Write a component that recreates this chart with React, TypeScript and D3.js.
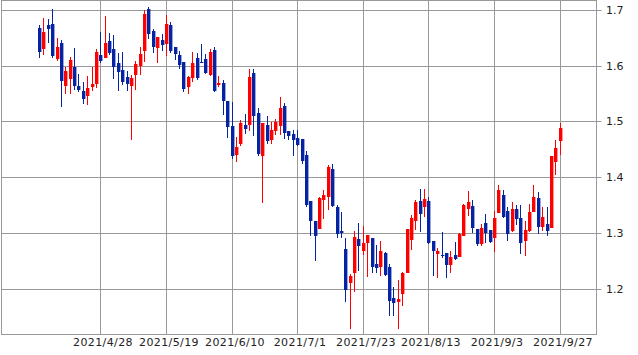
import React from "react";
import * as d3 from "d3";

const open = [
  1.668, 1.630, 1.673, 1.675, 1.612, 1.641, 1.564, 1.576, 1.598, 1.564,
  1.555, 1.546, 1.562, 1.567, 1.619, 1.613, 1.644, 1.630, 1.605, 1.592,
  1.580, 1.564, 1.583, 1.600, 1.626, 1.702, 1.662, 1.632, 1.646, 1.639,
  1.673, 1.634, 1.619, 1.607, 1.562, 1.578, 1.614, 1.607, 1.612, 1.583,
  1.628, 1.565, 1.569, 1.537, 1.492, 1.440, 1.460, 1.494, 1.494, 1.587,
  1.515, 1.438, 1.494, 1.467, 1.483, 1.492, 1.528, 1.483, 1.477, 1.470,
  1.468, 1.440, 1.357, 1.321, 1.306, 1.359, 1.365, 1.415, 1.347, 1.303,
  1.271, 1.209, 1.227, 1.289, 1.268, 1.282, 1.291, 1.244, 1.239, 1.264,
  1.239, 1.183, 1.176, 1.191, 1.228, 1.287, 1.322, 1.357, 1.346, 1.357,
  1.285, 1.262, 1.260, 1.264, 1.243, 1.260, 1.257, 1.295, 1.343, 1.348,
  1.307, 1.279, 1.318, 1.305, 1.291, 1.336, 1.368, 1.339, 1.303, 1.343,
  1.327, 1.286, 1.303, 1.338, 1.362, 1.311, 1.316, 1.309, 1.428, 1.464,
];
const high = [
  1.673, 1.686, 1.684, 1.702, 1.650, 1.646, 1.598, 1.616, 1.632, 1.585,
  1.571, 1.582, 1.598, 1.630, 1.661, 1.689, 1.659, 1.655, 1.623, 1.625,
  1.590, 1.583, 1.608, 1.634, 1.700, 1.705, 1.666, 1.652, 1.657, 1.691,
  1.678, 1.634, 1.626, 1.607, 1.582, 1.625, 1.623, 1.639, 1.621, 1.630,
  1.634, 1.582, 1.574, 1.537, 1.535, 1.472, 1.502, 1.513, 1.594, 1.594,
  1.524, 1.497, 1.510, 1.499, 1.504, 1.544, 1.533, 1.483, 1.485, 1.485,
  1.468, 1.447, 1.357, 1.321, 1.364, 1.377, 1.422, 1.424, 1.350, 1.338,
  1.291, 1.226, 1.303, 1.318, 1.312, 1.296, 1.291, 1.278, 1.285, 1.266,
  1.244, 1.203, 1.216, 1.230, 1.307, 1.332, 1.359, 1.378, 1.378, 1.364,
  1.285, 1.273, 1.301, 1.264, 1.267, 1.283, 1.300, 1.352, 1.375, 1.359,
  1.307, 1.316, 1.334, 1.305, 1.339, 1.386, 1.377, 1.346, 1.355, 1.350,
  1.350, 1.321, 1.352, 1.386, 1.373, 1.346, 1.346, 1.438, 1.467, 1.497,
];
const low = [
  1.614, 1.620, 1.641, 1.614, 1.609, 1.526, 1.550, 1.550, 1.556, 1.553,
  1.531, 1.529, 1.555, 1.560, 1.605, 1.613, 1.619, 1.576, 1.555, 1.565,
  1.555, 1.467, 1.556, 1.583, 1.607, 1.648, 1.623, 1.604, 1.626, 1.617,
  1.623, 1.610, 1.594, 1.553, 1.550, 1.570, 1.575, 1.604, 1.585, 1.581,
  1.553, 1.562, 1.511, 1.471, 1.433, 1.428, 1.455, 1.478, 1.482, 1.473,
  1.437, 1.354, 1.460, 1.460, 1.476, 1.476, 1.469, 1.467, 1.437, 1.456,
  1.424, 1.347, 1.295, 1.250, 1.306, 1.325, 1.341, 1.347, 1.291, 1.291,
  1.175, 1.128, 1.194, 1.232, 1.260, 1.221, 1.228, 1.228, 1.223, 1.222,
  1.151, 1.151, 1.128, 1.169, 1.227, 1.269, 1.305, 1.301, 1.329, 1.280,
  1.223, 1.218, 1.255, 1.219, 1.227, 1.252, 1.257, 1.295, 1.330, 1.300,
  1.277, 1.277, 1.282, 1.282, 1.266, 1.336, 1.327, 1.286, 1.301, 1.314,
  1.262, 1.259, 1.301, 1.337, 1.297, 1.303, 1.295, 1.309, 1.404, 1.440,
];
const close = [
  1.625, 1.661, 1.666, 1.618, 1.634, 1.573, 1.590, 1.610, 1.564, 1.556,
  1.541, 1.560, 1.567, 1.625, 1.608, 1.641, 1.623, 1.598, 1.589, 1.570,
  1.568, 1.578, 1.603, 1.621, 1.693, 1.657, 1.634, 1.652, 1.637, 1.675,
  1.626, 1.621, 1.601, 1.559, 1.580, 1.605, 1.578, 1.604, 1.587, 1.625,
  1.555, 1.569, 1.537, 1.490, 1.437, 1.454, 1.497, 1.487, 1.580, 1.510,
  1.442, 1.497, 1.465, 1.485, 1.499, 1.524, 1.480, 1.474, 1.467, 1.458,
  1.429, 1.350, 1.322, 1.295, 1.362, 1.368, 1.418, 1.349, 1.298, 1.300,
  1.198, 1.223, 1.292, 1.277, 1.282, 1.296, 1.239, 1.237, 1.267, 1.224,
  1.178, 1.174, 1.182, 1.227, 1.307, 1.327, 1.355, 1.334, 1.361, 1.282,
  1.268, 1.268, 1.258, 1.243, 1.257, 1.253, 1.298, 1.350, 1.355, 1.309,
  1.280, 1.309, 1.299, 1.284, 1.327, 1.377, 1.329, 1.297, 1.343, 1.325,
  1.282, 1.305, 1.337, 1.364, 1.311, 1.328, 1.304, 1.437, 1.452, 1.488,
];

const dateTickIndex = [14, 29, 44, 59, 74, 89, 104, 119];
const dateTickLabels = [
  "2021/4/28", "2021/5/19", "2021/6/10", "2021/7/1",
  "2021/7/23", "2021/8/13", "2021/9/3", "2021/9/27",
];
const priceTicks = [1.2, 1.3, 1.4, 1.5, 1.6, 1.7];

const W = 638;
const H = 355;
const left = 1.5;
const right = 596.5;
const top = 0.5;
const bottom = 334.5;
const UP = "#ff0000";
const DOWN = "#0524a3";
const GRID = "#999999";
const FONT = "DejaVu Sans, sans-serif";

export default function App() {
  const x = d3.scaleLinear().domain([-8.58, 127.46]).range([1.5, 596.7]);
  const y = d3.scaleLinear().domain([1.2, 1.7]).range([288.5, 10]);
  const cx = (i: number) => Math.round(x(i));
  const cy = (v: number) => Math.round(y(v)) + 0.5;

  return (
    <svg
      width={W}
      height={H}
      style={{ position: "absolute", left: 0, top: 0, background: "#fff" }}
    >
      <rect x={0} y={0} width={W} height={H} fill="#fff" />
      {priceTicks.map((t) => (
        <g key={"p" + t}>
          <line x1={left} x2={right + 5} y1={cy(t)} y2={cy(t)} stroke={GRID} strokeWidth={1} />
          <text
            x={606}
            y={cy(t)}
            dy="0.36em"
            fontFamily={FONT}
            fontSize={11}
            fill="#222"
          >
            {t.toFixed(1)}
          </text>
        </g>
      ))}
      {dateTickIndex.map((idx, k) => (
        <g key={"d" + idx}>
          <line x1={cx(idx) + 0.5} x2={cx(idx) + 0.5} y1={top} y2={bottom} stroke={GRID} strokeWidth={1} />
          <text
            x={cx(idx) + 3}
            y={346}
            textAnchor="middle"
            fontFamily={FONT}
            fontSize={11}
            letterSpacing={0.4}
            fill="#222"
          >
            {dateTickLabels[k]}
          </text>
        </g>
      ))}
      <rect
        x={left}
        y={top}
        width={right - left}
        height={bottom - top}
        fill="none"
        stroke={GRID}
        strokeWidth={1}
      />
      {open.map((o, i) => {
        const c = close[i];
        const up = c > o;
        const col = up ? UP : DOWN;
        const xc = cx(i);
        const yTop = Math.round(y(Math.max(o, c)));
        const yBot = Math.round(y(Math.min(o, c)));
        const hgt = Math.max(1, yBot - yTop);
        return (
          <g key={i}>
            <line
              x1={xc + 0.5}
              x2={xc + 0.5}
              y1={Math.round(y(high[i]))}
              y2={Math.round(y(low[i]))}
              stroke={col}
              strokeWidth={1}
            />
            <rect x={xc - 1} y={yTop} width={3.4} height={hgt} fill={col} />
          </g>
        );
      })}
    </svg>
  );
}
